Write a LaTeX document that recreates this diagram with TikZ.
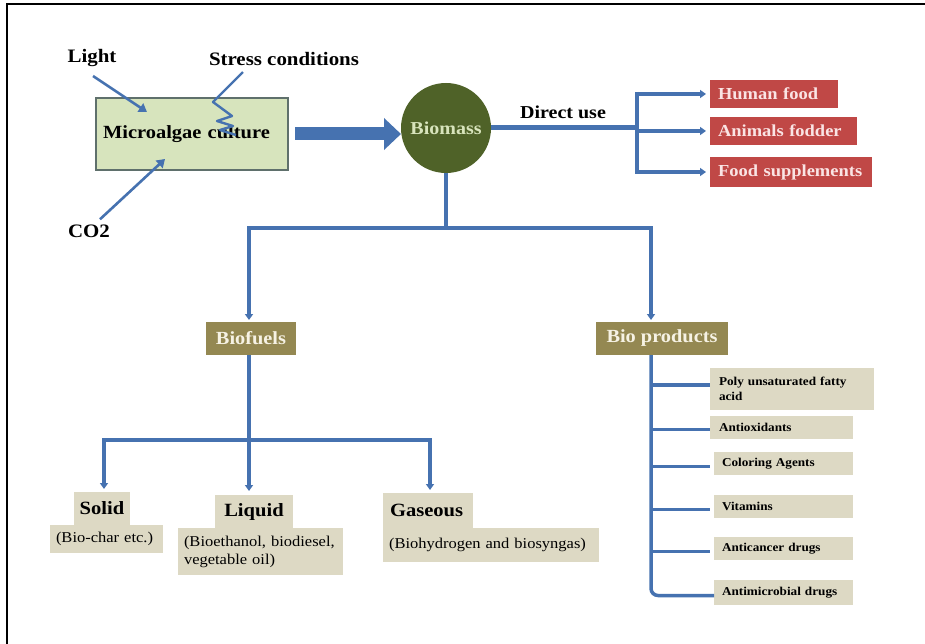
\documentclass[tikz,border=0pt]{standalone}
\usepackage{fontspec}
\setmainfont{Liberation Serif}[FakeStretch=1.1]
\usetikzlibrary{arrows.meta}
\definecolor{lineblue}{RGB}{70,114,176}
\definecolor{culturefill}{RGB}{215,228,189}
\definecolor{cultureborder}{RGB}{95,112,108}
\definecolor{biogreen}{RGB}{79,98,40}
\definecolor{biotext}{RGB}{216,228,188}
\definecolor{boxred}{RGB}{192,72,70}
\definecolor{redtext}{RGB}{250,228,228}
\definecolor{khaki}{RGB}{148,136,82}
\definecolor{khakitext}{RGB}{246,242,228}
\definecolor{beige}{RGB}{221,217,196}
\newcommand{\fsz}[2]{\fontsize{#1}{#2}\selectfont}
\tikzset{
  toplbl/.style={font=\bfseries\fsz{19}{22}},
  thinarr/.style={draw=lineblue, line width=2.6pt, -{Triangle[length=8pt,width=10pt]}},
  mainline/.style={draw=lineblue, line width=4pt},
  mainarr/.style={mainline, -{Triangle[length=6pt,width=8pt]}},
  branchline/.style={draw=lineblue, line width=3.5pt},
  redbox/.style={anchor=north west, fill=boxred, text=redtext, font=\bfseries\fsz{16.8}{20}, inner xsep=8pt, inner ysep=0pt, align=left},
  khakibox/.style={anchor=north west, fill=khaki, text=khakitext, font=\bfseries\fsz{18.5}{22}, inner sep=0pt, align=center},
  headbox/.style={anchor=north west, fill=beige, font=\bfseries\fsz{18.7}{22}, inner ysep=0pt},
  detbox/.style={anchor=north west, fill=beige, font=\fsz{15}{18}, inner xsep=6pt, inner ysep=0pt, align=left},
  itembox/.style={anchor=north west, fill=beige, font=\bfseries\fsz{12}{15}, inner xsep=8pt, inner ysep=0pt, align=left}
}
\begin{document}
\begin{tikzpicture}[x=1pt,y=-1pt, every node/.style={outer sep=0pt}]
\useasboundingbox (0,0) rectangle (925,644);
\fill[white] (0,0) rectangle (925,644);
\draw[line width=1.5pt] (7,644) -- (7,4) -- (925,4);

% --- top left
\node[anchor=north west, draw=cultureborder, line width=1.3pt, fill=culturefill,
      minimum width=192pt, minimum height=72pt, inner xsep=7pt, text width=178pt, align=left,
      font=\bfseries\fsz{18.6}{22}] (culture) at (96,98) {Microalgae culture};
\node[toplbl] (light) at (92,58) {Light};
\node[toplbl] (stress) at (284,59) {Stress conditions};
\node[toplbl] (co2) at (89,231) {CO2};
\coordinate (lightend) at (147,112);
\coordinate (co2end) at (165,159);
\draw[thinarr] ([xshift=1pt,yshift=-6pt]light.south) -- (lightend);
\draw[thinarr] ([xshift=11pt,yshift=2pt]co2.north) -- (co2end);
\draw[draw=lineblue, line width=2.4pt, line join=round]
  ([xshift=-41pt,yshift=-3pt]stress.south) -- ++(-30,30) -- ++(19,14) -- ++(-15,5) -- ++(16,5) -- ++(-13,4) -- ++(16,5);

% --- biomass
\node[circle, fill=biogreen, minimum size=90pt, inner sep=0pt, text=biotext,
      font=\bfseries\fsz{18.2}{22}] (bio) at (446,128) {Biomass};
\draw[lineblue, line width=13pt, -{Triangle[length=17pt,width=31pt]}]
  ([xshift=7pt]culture.east) -- (bio.west |- culture.east);

% --- direct use
\node[font=\bfseries\fsz{18.2}{22}] (direct) at (563,112) {Direct use};
\coordinate (dj) at (637,128);
\node[redbox, minimum height=28pt, text width=112pt] (hf) at (710,80) {Human food};
\node[redbox, minimum height=28pt, text width=131pt] (af) at (710,117) {Animals fodder};
\node[redbox, minimum height=30pt, text width=146pt] (fs) at (710,157) {Food supplements};
\draw[draw=lineblue, line width=5pt] (bio.east) -- (dj);
\draw[mainline] ([yshift=2pt]dj |- hf.west) -- ([yshift=-2pt]dj |- fs.west);
\draw[mainarr] (dj |- hf.west) -- ([xshift=-4pt]hf.west);
\draw[mainarr] (dj |- af.west) -- ([xshift=-4pt]af.west);
\draw[mainarr] (dj |- fs.west) -- ([xshift=-4pt]fs.west);

% --- main split
\node[khakibox, minimum width=90pt, minimum height=33pt] (bf) at (206,322) {Biofuels};
\node[khakibox, minimum width=132pt, minimum height=33pt] (bp) at (596,322) {Bio products};
\coordinate (tl) at (249,228);
\coordinate (tr) at (651,228);
\draw[mainline] (bio.south) -- (bio.south |- tl);
\draw[mainline, line cap=rect] (tl) -- (tr);
\draw[mainarr] (tl) -- ([yshift=2pt]tl |- bf.north);
\draw[mainarr] (tr) -- ([yshift=2pt]tr |- bp.north);

% --- biofuels
\node[detbox, minimum width=113pt, minimum height=28pt, text width=101pt] (soliddet) at (50,525) {(Bio-char etc.)};
\node[headbox, minimum width=56pt, minimum height=33pt, inner xsep=0pt] (solid) at (74,492) {Solid};
\node[detbox, minimum width=165pt, minimum height=47pt, text width=153pt] (liqdet) at (178,528) {(Bioethanol, biodiesel,\\ vegetable oil)};
\node[headbox, minimum width=78pt, minimum height=33pt, inner xsep=0pt] (liquid) at (215,495) {Liquid};
\node[detbox, minimum width=216pt, minimum height=34pt, text width=204pt, inner xsep=6pt] (gasdet) at (383,528) {(Biohydrogen and biosyngas)};
\node[headbox, minimum height=35pt, inner xsep=7pt, text width=76pt, align=left] (gas) at (383,493) {Gaseous};
\coordinate (fl) at (104,440);
\coordinate (fm) at (249,440);
\coordinate (fr) at (430,440);
\draw[mainline] (fm |- bf.south) -- (fm);
\draw[mainline, line cap=rect] (fl) -- (fr);
\draw[mainarr] (fl) -- ([yshift=3pt]fl |- solid.north);
\draw[mainarr] (fm) -- ([yshift=4pt]fm |- liquid.north);
\draw[mainarr] (fr) -- ([yshift=3pt]fr |- gas.north);

% --- bio products
\node[itembox, minimum height=42pt, text width=146pt, inner xsep=9pt] (p1) at (710,368) {Poly unsaturated fatty\\acid};
\node[itembox, minimum height=23pt, text width=125pt, inner xsep=9pt] (p2) at (710,416) {Antioxidants};
\node[itembox, minimum height=23pt, text width=123pt] (p3) at (714,452) {Coloring Agents};
\node[itembox, minimum height=23pt, text width=123pt] (p4) at (714,495) {Vitamins};
\node[itembox, minimum height=23pt, text width=123pt] (p5) at (714,537) {Anticancer drugs};
\node[itembox, minimum height=25pt, text width=123pt] (p6) at (714,580) {Antimicrobial drugs};
\draw[branchline, rounded corners=7pt] (tr |- bp.south) |- ([yshift=-3pt]p6.west);
\draw[branchline] ([yshift=4pt]tr |- p1.west) -- ([yshift=4pt]p1.west);
\draw[branchline] ([yshift=-2pt]tr |- p2.west) -- ([yshift=-2pt]p2.west);
\draw[branchline] ([yshift=-3pt]tr |- p3.west) -- ([yshift=-3pt,xshift=-4pt]p3.west);
\draw[branchline] ([yshift=-3pt]tr |- p4.west) -- ([yshift=-3pt,xshift=-4pt]p4.west);
\draw[branchline] ([yshift=-3pt]tr |- p5.west) -- ([yshift=-3pt,xshift=-4pt]p5.west);
\end{tikzpicture}
\end{document}
